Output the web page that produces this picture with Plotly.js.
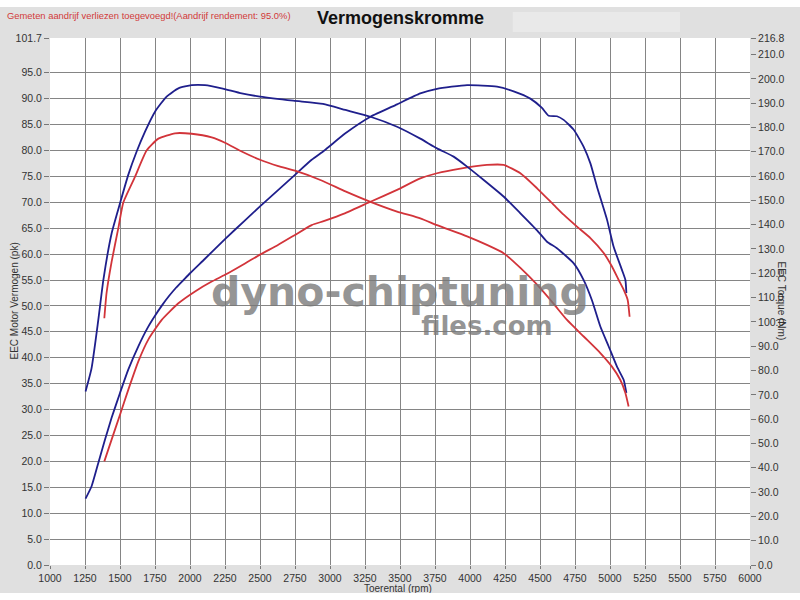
<!DOCTYPE html>
<html>
<head>
<meta charset="utf-8">
<script src="https://cdn.plot.ly/plotly-3.0.1.min.js"></script>
<style>
  html, body { margin: 0; padding: 0; background: #ffffff; }
  #chart { position: absolute; left: 0; top: 7px; width: 800px; height: 586px; }
</style>
</head>
<body>
<div id="chart"></div>
<script>
// ---- data ----
const rpmPowerBlue = [1254,1297,1345,1393,1440,1500,1559,1631,1700,1750,1800,1850,1900,1950,2000,2107,2250,2393,2500,2631,2750,2869,2960,3110,3289,3479,3645,3764,3979,4193,4312,4431,4514,4562,4621,4669,4741,4812,4860,4907,4979,5026,5086,5110,5117];
const powerBlue = [12.8,15.2,19.7,24.2,28.4,33.2,37.7,42.2,45.9,48.1,50.1,51.9,53.5,54.9,56.3,59.1,62.9,66.5,69.2,72.4,75.3,78.2,80.0,83.3,86.5,88.9,91.0,91.9,92.6,92.3,91.4,90.0,88.2,86.7,86.6,85.9,84.0,80.7,77.5,73.0,66.6,61.4,56.9,55.0,52.5];

const rpmPowerRed = [1388,1440,1500,1559,1631,1702,1798,1917,2036,2155,2250,2393,2500,2631,2750,2869,2960,3110,3289,3479,3645,3764,3931,4121,4240,4360,4479,4598,4669,4764,4860,4955,5014,5062,5098,5126,5140];
const powerRed = [20.0,24.2,29.0,33.8,39.3,43.5,47.3,50.5,52.8,54.7,56.0,58.2,59.9,61.8,63.7,65.6,66.4,67.9,70.1,72.4,74.6,75.6,76.5,77.2,77.2,75.6,72.7,69.5,67.6,65.3,63.1,60.2,57.6,55.0,53.1,51.2,47.9];

const rpmTorqueBlue = [1254,1297,1345,1381,1440,1500,1559,1619,1678,1750,1833,1917,2012,2107,2226,2369,2500,2738,2950,3110,3289,3479,3645,3764,3883,3979,4098,4240,4360,4479,4550,4621,4741,4812,4871,4931,4990,5050,5098,5117];
const torqueBlue = [71.4,81.0,100.8,117.2,136.4,148.8,160.5,170.1,178.2,186.5,192.7,196.1,197.4,197.4,196.1,194.0,192.7,191.0,189.7,187.2,184.4,180.3,175.4,171.4,168.0,163.9,158.4,151.6,144.7,137.7,133.0,130.3,124.1,117.2,108.9,98.1,90.0,81.6,76.1,70.8];

const rpmTorqueRed = [1388,1404,1440,1488,1524,1607,1690,1774,1893,2012,2155,2250,2369,2500,2631,2750,2931,3110,3289,3479,3645,3764,3979,4121,4240,4360,4479,4598,4693,4812,4931,5014,5074,5110,5133];
const torqueRed = [101.5,111.9,124.7,138.6,149.2,159.7,170.5,175.4,177.6,177.4,175.9,173.7,170.1,166.7,164.1,162.2,158.4,153.7,149.4,145.4,142.6,139.8,135.2,131.7,128.3,122.2,115.3,107.4,100.8,94.0,87.2,81.6,76.1,70.8,65.2];

const xTicks = [1000,1250,1500,1750,2000,2250,2500,2750,3000,3250,3500,3750,4000,4250,4500,4750,5000,5250,5500,5750,6000];
const yLeftTicks = [0,5,10,15,20,25,30,35,40,45,50,55,60,65,70,75,80,85,90,95,101.7];
const yRightTicks = [0,10,20,30,40,50,60,70,80,90,100,110,120,130,140,150,160,170,180,190,200,210,216.8];
const yLeftMax = 101.7;
const yRightMax = 216.8;

const blue = '#1f1f8c';
const red = '#d2343a';
const font = 'Liberation Sans, Arial, sans-serif';

function line(x, y, color, axis) {
  return {
    x: x, y: y, type: 'scatter', mode: 'lines', yaxis: axis,
    line: {color: color, width: 1.8, shape: 'spline', smoothing: 0.5},
    hoverinfo: 'x+y', showlegend: false
  };
}

const data = [
  line(rpmPowerBlue, powerBlue, blue, 'y'),
  line(rpmTorqueBlue, torqueBlue, blue, 'y2'),
  line(rpmPowerRed, powerRed, red, 'y'),
  line(rpmTorqueRed, torqueRed, red, 'y2')
];

const tickFont = {family: font, size: 10.5, color: '#333333'};

const layout = {
  width: 800, height: 586,
  margin: {l: 50, r: 50, t: 31, b: 28},
  paper_bgcolor: '#e0e0e0',
  plot_bgcolor: '#ffffff',
  showlegend: false,
  xaxis: {
    range: [1000, 6000], tickmode: 'array', tickvals: xTicks,
    ticktext: xTicks.map(String),
    showgrid: true, gridcolor: '#858585', gridwidth: 1,
    zeroline: false, showline: false,
    ticks: 'outside', ticklen: 3, tickcolor: '#777777',
    tickfont: tickFont, fixedrange: true
  },
  yaxis: {
    range: [0, yLeftMax], tickmode: 'array', tickvals: yLeftTicks,
    ticktext: yLeftTicks.map(v => v.toFixed(1)),
    showgrid: true, gridcolor: '#858585', gridwidth: 1,
    zeroline: false, showline: false,
    ticks: 'outside', ticklen: 5, tickcolor: '#777777',
    tickfont: tickFont, fixedrange: true
  },
  yaxis2: {
    range: [0, yRightMax], overlaying: 'y', side: 'right',
    tickmode: 'array', tickvals: yRightTicks,
    ticktext: yRightTicks.map(v => v.toFixed(1)),
    showgrid: false, zeroline: false, showline: false,
    ticks: 'outside', ticklen: 5, tickcolor: '#777777',
    tickfont: tickFont, fixedrange: true
  },
  shapes: [
    {type: 'rect', xref: 'paper', yref: 'paper', x0: 0.661, x1: 0.9, y0: 1.0114, y1: 1.0493,
     fillcolor: '#e9e9e9', line: {width: 0}, layer: 'below'}
  ],
  annotations: [
    {text: 'Vermogenskromme', xref: 'paper', yref: 'paper', x: 0.5, y: 1.038,
     xanchor: 'center', yanchor: 'middle', showarrow: false,
     font: {family: font, size: 18, color: '#111111', weight: 'bold'}},
    {text: 'Gemeten aandrijf verliezen toegevoegd!(Aandrijf rendement: 95.0%)', xref: 'paper', yref: 'paper',
     x: -0.064, y: 1.0436, xanchor: 'left', yanchor: 'middle', showarrow: false,
     font: {family: font, size: 9.4, color: '#d23a3a'}},
    {text: 'EEC Motor Vermogen (pk)', xref: 'paper', yref: 'paper', x: -0.0514, y: 0.5,
     xanchor: 'center', yanchor: 'middle', textangle: -90, showarrow: false,
     font: {family: font, size: 10, color: '#333333'}},
    {text: 'EEC Torque (Nm)', xref: 'paper', yref: 'paper', x: 1.0457, y: 0.5,
     xanchor: 'center', yanchor: 'middle', textangle: 90, showarrow: false,
     font: {family: font, size: 10, color: '#333333'}},
    {text: 'Toerental (rpm)', xref: 'paper', yref: 'paper', x: 0.497, y: -0.044,
     xanchor: 'center', yanchor: 'middle', showarrow: false,
     font: {family: font, size: 10, color: '#333333'}},
    {text: '<span style="font-size:41px">dyno-chiptuning</span><br><span style="font-size:26px">files.com\u00a0\u00a0\u00a0\u00a0</span>',
     xref: 'paper', yref: 'paper', x: 0.5, y: 0.495, align: 'right',
     xanchor: 'center', yanchor: 'middle', showarrow: false,
     font: {family: 'DejaVu Sans, sans-serif', size: 22, color: 'rgba(120,120,120,0.78)', weight: 'bold'}}
  ]
};

Plotly.newPlot('chart', data, layout, {displayModeBar: false, staticPlot: true});
</script>
</body>
</html>
